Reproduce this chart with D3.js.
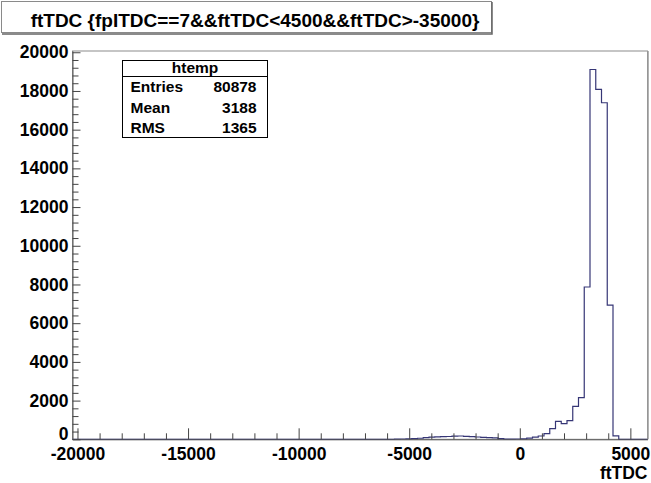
<!DOCTYPE html>
<html>
<head>
<meta charset="utf-8">
<script src="https://cdn.jsdelivr.net/npm/d3@7/dist/d3.min.js"></script>
<style>
  html, body { margin: 0; padding: 0; background: #fff; }
  svg { display: block; }
  text { font-family: "Liberation Sans", Arial, Helvetica, sans-serif; font-weight: bold; fill: #000; }
</style>
</head>
<body>
<svg id="chart" width="651" height="483"></svg>
<script>
// Histogram binning: 100 bins of width 260 starting at -20225
const binStart = -20225;
const binWidth = 260;
const binCounts = [
  0, 0, 0, 0, 0, 0, 0, 0, 0, 0,
  0, 0, 0, 0, 0, 0, 0, 0, 0, 0,
  0, 0, 0, 0, 0, 0, 0, 0, 0, 0,
  0, 0, 0, 0, 0, 0, 0, 0, 0, 0,
  0, 0, 0, 0, 0, 0, 0, 0, 0, 0,
  0, 0, 0, 0, 0, 0, 5, 15, 25, 40,
  55, 90, 110, 125, 140, 145, 160, 170, 155, 140,
  120, 100, 85, 70, 40, 8, 4, 15, 25, 60,
  110, 170, 290, 550, 930, 810, 970, 1700, 2150, 7870,
  19110, 18080, 17390, 6930, 180, 0, 0, 0, 0, 0
];

const yMax = 20065;
const xTickMajor = [-20000, -15000, -10000, -5000, 0, 5000];
const xTickMinor = d3.range(-20000, 5001, 1000).filter(v => v % 5000 !== 0);
const yTickMajor = d3.range(0, 20001, 2000);
const yTickMinor = d3.range(0, 20001, 400).filter(v => v % 2000 !== 0);

const titleText = "ftTDC {fpITDC==7&&ftTDC<4500&&ftTDC>-35000}";
const xAxisTitle = "ftTDC";
const statsName = "htemp";
const statsLabels = ["Entries", "Mean", "RMS"];
const statsValues = ["80878", "3188", "1365"];

const svg = d3.select("#chart");
const frame = { left: 72.5, right: 647.5, top: 51, bottom: 439.3 };

const x = d3.scaleLinear()
  .domain([binStart, binStart + binWidth * binCounts.length])
  .range([frame.left, frame.right]);
const y = d3.scaleLinear()
  .domain([0, yMax])
  .range([frame.bottom, frame.top]);

svg.append("rect").attr("width", 651).attr("height", 483).attr("fill", "#fff");

// Frame border
svg.append("rect")
  .attr("x", frame.left).attr("y", frame.top)
  .attr("width", frame.right - frame.left).attr("height", frame.bottom - frame.top)
  .attr("fill", "none").attr("stroke", "#8c8c8c").attr("stroke-width", 1);
svg.append("line")
  .attr("x1", frame.right + 0.5).attr("x2", frame.right + 0.5)
  .attr("y1", frame.top).attr("y2", frame.bottom)
  .attr("stroke", "#9a9a9a").attr("stroke-width", 1.5);

// Histogram outline
const pts = binCounts.map((c, i) => [binStart + i * binWidth, c]);
pts.push([binStart + binCounts.length * binWidth, binCounts[binCounts.length - 1]]);
const line = d3.line()
  .x(d => x(d[0]))
  .y(d => y(d[1]))
  .curve(d3.curveStepAfter);
svg.append("path")
  .datum(pts)
  .attr("d", line)
  .attr("fill", "none")
  .attr("stroke", "#363676")
  .attr("stroke-width", 1.2);

// X axis
const fmt = d => String(d);
const xAxisG = svg.append("g").attr("transform", `translate(0,${frame.bottom})`);
xAxisG.call(d3.axisBottom(x).tickValues(xTickMajor).tickFormat(fmt)
  .tickSizeInner(-11).tickSizeOuter(0).tickPadding(15));
svg.append("g").attr("transform", `translate(0,${frame.bottom})`)
  .call(d3.axisBottom(x).tickValues(xTickMinor).tickFormat("")
    .tickSizeInner(-6).tickSizeOuter(0))
  .select(".domain").remove();

// Y axis
const yAxisG = svg.append("g").attr("transform", `translate(${frame.left},0)`);
yAxisG.call(d3.axisLeft(y).tickValues(yTickMajor).tickFormat(fmt)
  .tickSizeInner(-8).tickSizeOuter(0).tickPadding(4));
svg.append("g").attr("transform", `translate(${frame.left},0)`)
  .call(d3.axisLeft(y).tickValues(yTickMinor).tickFormat("")
    .tickSizeInner(-6).tickSizeOuter(0))
  .select(".domain").remove();

svg.selectAll(".tick line").attr("stroke", "#444");
svg.selectAll(".domain").attr("stroke", "#555");
svg.selectAll(".tick text")
  .attr("font-family", "Liberation Sans, Arial, sans-serif")
  .attr("font-weight", "bold")
  .attr("font-size", 17.5)
  .attr("fill", "#000");
xAxisG.selectAll(".tick text").attr("dy", "0.3em");
// lift the zero label so it sits above the x labels
yAxisG.selectAll(".tick").filter(d => d === 0).select("text").attr("dy", "0.02em");

// X axis title
svg.append("text")
  .attr("x", frame.right).attr("y", 478.5)
  .attr("text-anchor", "end")
  .attr("font-size", 17.5)
  .text(xAxisTitle);

// Title box
svg.append("rect")
  .attr("x", 1.5).attr("y", 1.5).attr("width", 490).attr("height", 31)
  .attr("fill", "#fff").attr("stroke", "#8a8a8a").attr("stroke-width", 1);
svg.append("path")
  .attr("d", "M492,2 V34 H2")
  .attr("fill", "none").attr("stroke", "#666").attr("stroke-width", 1.5);
svg.append("text")
  .attr("x", 255).attr("y", 26.5)
  .attr("text-anchor", "middle")
  .attr("font-size", 19)
  .text(titleText);

// Statistics box
const sb = { x: 122.5, y: 60.5, w: 145, h: 77, header: 16 };
const stats = svg.append("g");
stats.append("rect")
  .attr("x", sb.x).attr("y", sb.y).attr("width", sb.w).attr("height", sb.h)
  .attr("fill", "#fff").attr("stroke", "#000").attr("stroke-width", 1);
stats.append("line")
  .attr("x1", sb.x).attr("x2", sb.x + sb.w)
  .attr("y1", sb.y + sb.header).attr("y2", sb.y + sb.header)
  .attr("stroke", "#000").attr("stroke-width", 1);
stats.append("text")
  .attr("x", sb.x + sb.w / 2).attr("y", sb.y + 12.5)
  .attr("text-anchor", "middle").attr("font-size", 15.5)
  .text(statsName);
const rowH = (sb.h - sb.header) / statsLabels.length;
statsLabels.forEach((lab, i) => {
  const by = sb.y + sb.header + rowH * (i + 0.5) + 5.5;
  stats.append("text").attr("x", sb.x + 8).attr("y", by)
    .attr("font-size", 15.5).text(lab);
  stats.append("text").attr("x", sb.x + sb.w - 11).attr("y", by)
    .attr("text-anchor", "end").attr("font-size", 15.5).text(statsValues[i]);
});
</script>
</body>
</html>
